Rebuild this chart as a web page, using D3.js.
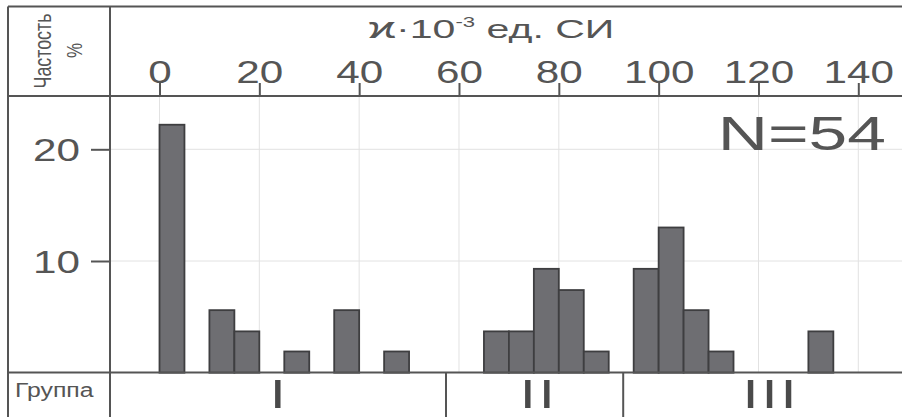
<!DOCTYPE html>
<html><head><meta charset="utf-8">
<script src="https://cdn.jsdelivr.net/npm/d3@7"></script>
<style>html,body{margin:0;padding:0;background:#fff;}svg{display:block;font-family:"Liberation Sans",Arial,sans-serif;}</style>
</head><body>
<script>
// ---- data ----
const binStart = [0,10,15,25,35,45,65,70,75,80,85,95,100,105,110,130];
const freq = [22.2,5.6,3.7,1.9,5.6,1.9,3.7,3.7,9.3,7.4,1.9,9.3,13.0,5.6,1.9,3.7];
const binWidth = 5;
const xTicks = [0,20,40,60,80,100,120,140];
const yTicks = [10,20];
const groupLabels = ["I","II","III"];
const groupDividers = [57.4,92.9];
const groupLabelAt = [24,76,122.5];
const nLabel = "N=54";

const W=902,H=417;
const svg=d3.select("body").append("svg").attr("width",W).attr("height",H);
const x=d3.scaleLinear().domain([0,140]).range([159.5,858.3]);
const y=d3.scaleLinear().domain([0,20]).range([372.7,149.3]);
const L=8,T=6.5,D=110,HB=96,BASE=372.5;
const ink="#555", sx=1.32;

// gridlines
svg.append("g").selectAll("line").data(xTicks).join("line")
  .attr("x1",d=>x(d)).attr("x2",d=>x(d)).attr("y1",HB).attr("y2",BASE)
  .attr("stroke","#e2e2e2").attr("stroke-width",1);
svg.append("g").selectAll("line").data(yTicks).join("line")
  .attr("x1",D).attr("x2",W).attr("y1",d=>y(d)).attr("y2",d=>y(d))
  .attr("stroke","#e2e2e2").attr("stroke-width",1);

// bars
svg.append("g").selectAll("rect").data(binStart).join("rect")
  .attr("x",d=>x(d)).attr("width",d=>x(d+binWidth)-x(d))
  .attr("y",(d,i)=>y(freq[i])).attr("height",(d,i)=>y(0)-y(freq[i]))
  .attr("fill","#6e6e72").attr("stroke","#3e3e40").attr("stroke-width",1.8);

// frame
const fr=svg.append("g").attr("stroke",ink).attr("stroke-width",2).attr("fill","none");
fr.append("line").attr("x1",L).attr("x2",W).attr("y1",T).attr("y2",T);
fr.append("line").attr("x1",L).attr("x2",W).attr("y1",HB).attr("y2",HB);
fr.append("line").attr("x1",L).attr("x2",W).attr("y1",BASE).attr("y2",BASE);
fr.append("line").attr("x1",L).attr("x2",L).attr("y1",T).attr("y2",H);
fr.append("line").attr("x1",D).attr("x2",D).attr("y1",T).attr("y2",H);
groupDividers.forEach(v=>fr.append("line").attr("x1",x(v)).attr("x2",x(v)).attr("y1",BASE).attr("y2",H));

// top axis
const ax=svg.append("g").attr("transform",`translate(0,${HB})`)
  .call(d3.axisTop(x).tickValues(xTicks).tickSize(13).tickSizeOuter(0));
ax.select(".domain").remove();
ax.selectAll(".tick line").attr("stroke",ink).attr("stroke-width",2);
ax.selectAll(".tick text").attr("y",0).attr("dy",0)
  .attr("transform",`translate(0,-13) scale(${sx},1)`)
  .attr("font-size",32).attr("fill",ink).attr("font-family","Liberation Sans, Arial, sans-serif");

// left axis
const ay=svg.append("g").attr("transform",`translate(${D},0)`)
  .call(d3.axisLeft(y).tickValues(yTicks).tickSize(19).tickSizeOuter(0));
ay.select(".domain").remove();
ay.selectAll(".tick line").attr("stroke",ink).attr("stroke-width",2);
ay.selectAll(".tick text").attr("x",0).attr("dy",0)
  .attr("transform",`translate(-30,11.5) scale(${sx},1)`)
  .attr("font-size",32).attr("fill",ink).attr("font-family","Liberation Sans, Arial, sans-serif");

// title
const tt=svg.append("text").attr("text-anchor","middle")
  .attr("transform",`translate(491,38) scale(1.58,1)`).attr("font-size",26).attr("fill",ink);
tt.append("tspan").attr("font-size",30).text("ϰ");
tt.append("tspan").text("·10");
tt.append("tspan").attr("font-size",14).attr("dy",-11).text("-3");
tt.append("tspan").attr("dy",11).text(" ед. СИ");

// left header
svg.append("text").attr("text-anchor","middle")
  .attr("transform",`translate(50.5,51) scale(${sx},1) rotate(-90)`)
  .attr("font-size",18).attr("textLength",75).attr("lengthAdjust","spacingAndGlyphs")
  .attr("fill",ink).text("Частость");
svg.append("text").attr("text-anchor","middle")
  .attr("transform",`translate(82,50.5) scale(${sx},1) rotate(-90)`)
  .attr("font-size",17).attr("fill",ink).text("%");

// N label
svg.append("text").attr("text-anchor","end")
  .attr("transform",`translate(886,150) scale(1.45,1)`)
  .attr("font-size",48).attr("fill",ink).text(nLabel);

// group row
svg.append("text").attr("transform",`translate(15,397) scale(1.18,1)`)
  .attr("font-size",21).attr("fill",ink).text("Группа");
svg.append("g").selectAll("text").data(groupLabels).join("text")
  .attr("text-anchor","middle")
  .attr("transform",(d,i)=>`translate(${x(groupLabelAt[i])},408) scale(1.45,1)`)
  .attr("font-size",40).attr("letter-spacing",2).attr("fill","#4a4a4a").text(d=>d);
</script>
</body></html>
